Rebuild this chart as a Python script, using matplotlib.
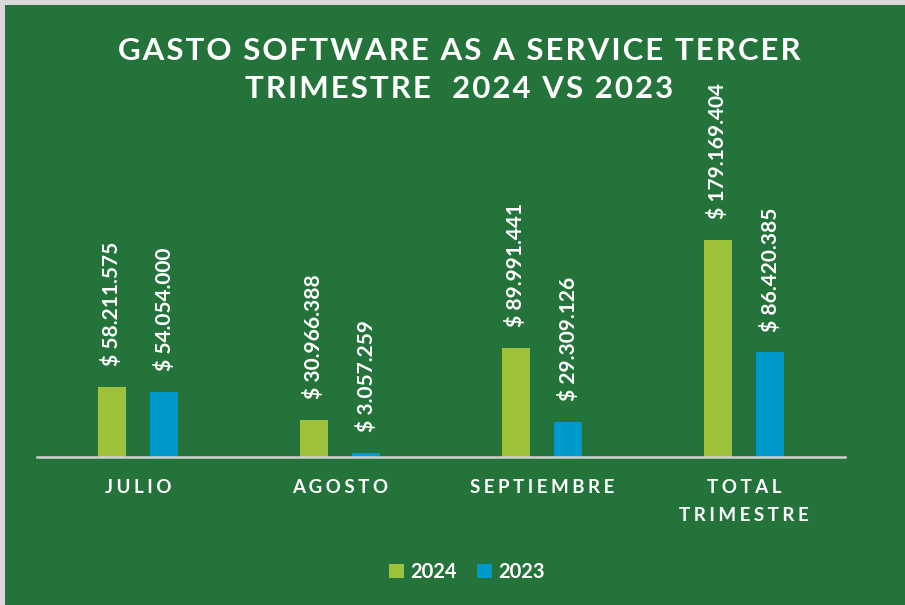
import matplotlib
matplotlib.use('Agg')
import matplotlib.pyplot as plt
from matplotlib.patches import Rectangle
import numpy as np

plt.rcParams['font.family'] = ['Lato', 'DejaVu Sans']

# Data
categories = ['JULIO', 'AGOSTO', 'SEPTIEMBRE', 'TOTAL\nTRIMESTRE']
gasto_2024 = [58211575, 30966388, 89991441, 179169404]
gasto_2023 = [54054000, 3057259, 29309126, 86420385]
series_names = ['2024', '2023']
title_lines = ['GASTO SOFTWARE AS A SERVICE TERCER', 'TRIMESTRE  2024 VS 2023']

bg = '#24733a'
c2024 = '#9fc23d'
c2023 = '#0099cc'


def fmt(v):
    """Pesos format with dots as thousand separator."""
    return '$ ' + f'{v:,}'.replace(',', '.')


def spaced(s, sep='\u200a'):
    """Add a little letter spacing."""
    return '\n'.join(sep.join(list(line)) for line in s.split('\n'))


fig = plt.figure(figsize=(9.05, 6.05), dpi=100)
fig.patch.set_facecolor('#d9d9d9')
fig.patches.append(Rectangle((5 / 905, 0), 1, 1 - 5 / 605, transform=fig.transFigure,
                             facecolor=bg, edgecolor='none', zorder=-10))

ax = fig.add_axes([37 / 905, 148 / 605, 808 / 905, 242 / 605])
ax.set_facecolor('none')
ax.set_zorder(2)

x = np.arange(len(categories))
w = 0.139
off = 0.129
b1 = ax.bar(x - off, gasto_2024, w, color=c2024, label=series_names[0], zorder=2)
b2 = ax.bar(x + off, gasto_2023, w, color=c2023, label=series_names[1], zorder=2)

for bars, vals in [(b1, gasto_2024), (b2, gasto_2023)]:
    for rect, v in zip(bars, vals):
        ax.annotate(fmt(v), (rect.get_x() + rect.get_width() / 2, rect.get_height()),
                    xytext=(0, 15), textcoords='offset points', rotation=90,
                    ha='center', va='bottom', color='white', fontsize=15,
                    fontweight='bold', annotation_clip=False)

ax.set_xlim(-0.5, 3.5)
ax.set_ylim(0, 200000000)
ax.set_yticks([])
for s in ['top', 'right', 'left']:
    ax.spines[s].set_visible(False)
ax.spines['bottom'].set_color('#d0d0d0')
ax.spines['bottom'].set_linewidth(1.8)
ax.set_xticks(x)
ax.set_xticklabels([spaced(c, '\u2009\u200a') for c in categories], color='white',
                   fontsize=13.5, fontweight='bold', linespacing=1.75)
ax.tick_params(axis='x', length=0, pad=16)

# title, one text per line
for i, line in enumerate(title_lines):
    fig.text(0.507, 1 - (51 + 38 * i) / 605, spaced(line),
             ha='center', va='center', color='white', fontsize=22.5, fontweight='bold',
             zorder=3)

leg = fig.legend(loc='center', bbox_to_anchor=(467 / 905, 1 - 572 / 605), ncol=2,
                 frameon=False, handlelength=0.75, handleheight=0.75, handletextpad=0.3,
                 columnspacing=1.0, prop={'weight': 'bold', 'size': 14.5})
for t in leg.get_texts():
    t.set_color('white')

fig.savefig('out.png', dpi=100, facecolor=fig.get_facecolor())
